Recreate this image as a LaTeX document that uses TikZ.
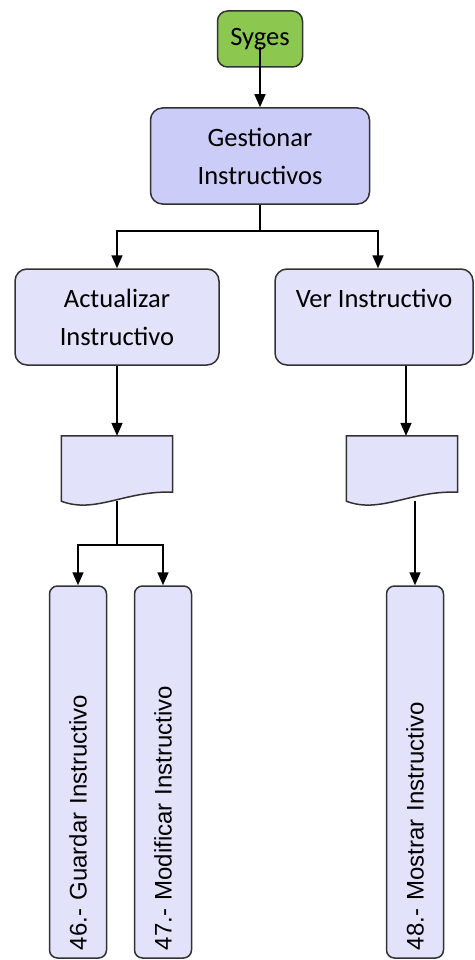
\documentclass[tikz,border=0pt]{standalone}
\usepackage{fontspec}
\setmainfont{Carlito}
\newfontfamily\arialfont{Liberation Sans}
\usetikzlibrary{arrows.meta,positioning}
\definecolor{sygreen}{RGB}{140,200,80}
\definecolor{mainlav}{RGB}{204,204,248}
\definecolor{softlav}{RGB}{226,226,250}
\definecolor{edgegray}{RGB}{50,50,50}

% document symbol drawn over an empty node
\newcommand{\docshape}[1]{%
  \filldraw[draw=edgegray,fill=softlav,line width=1.5pt]
    (#1.north west) -- (#1.north east) -- ([yshift=9pt]#1.south east)
    .. controls ([xshift=-47pt,yshift=11pt]#1.south east) and ([xshift=34pt,yshift=-13pt]#1.south west) .. (#1.south west) -- cycle;}

\begin{document}
\begin{tikzpicture}[
  x=1pt,y=-1pt,
  box/.style={draw=edgegray,line width=1.5pt,rounded corners=12pt,fill=softlav,align=center,inner sep=0pt,font=\fontsize{26.5}{38}\selectfont},
  opbox/.style={draw=edgegray,line width=1.5pt,rounded corners=8pt,fill=softlav,rotate=90,minimum width=372pt,minimum height=57pt,text width=356pt,align=left,inner sep=0pt,font=\arialfont\fontsize{24}{28}\selectfont},
  docbox/.style={minimum width=111pt,minimum height=65pt,inner sep=0pt},
  arr/.style={-{Triangle[length=13pt,width=11pt]},line width=1.7pt},
  link/.style={line width=1.7pt}
]
\useasboundingbox (0,0) rectangle (474,960);

\node[box,fill=sygreen,minimum width=85pt,minimum height=56pt,rounded corners=10pt] (syges) at (260,39) {Syges};
\node[box,fill=mainlav,minimum width=219pt,minimum height=96pt] (gest) at (260,156) {Gestionar\\Instructivos};
\node[box,minimum width=204pt,minimum height=96pt] (act) at (117,317) {Actualizar\\Instructivo};
\node[box,minimum width=198pt,minimum height=96pt] (ver) at (374,317) {Ver Instructivo\\\mbox{}};

\node[docbox] (docact) at (117,468.5) {};
\node[docbox] (docver) at (402,468.5) {};
\docshape{docact}
\docshape{docver}

\node[opbox] (guardar) at (78,772) {46.- Guardar Instructivo};
\node[opbox] (modificar) at (163,772) {47.-  Modificar Instructivo};
\node[opbox] (mostrar) at (415,772) {48.- Mostrar Instructivo};

\draw[arr] ([yshift=-8pt]syges.center) -- (gest.north);
\draw[link] (gest.south) -- ++(0,26) coordinate (split);
\draw[arr] (split) -| (act.north);
\draw[arr] (split) -| ([xshift=4pt]ver.north);
\draw[arr] (act.south) -- (docact.north);
\draw[arr] ([xshift=32pt]ver.south) -- ([xshift=4pt]docver.north);
\draw[link] (docact.south) -- ++(0,44) coordinate (fork);
\draw[arr] (fork) -| (guardar.east);
\draw[arr] (fork) -| (modificar.east);
\draw[arr] ([xshift=13pt]docver.south) -- (mostrar.east);
\end{tikzpicture}
\end{document}
